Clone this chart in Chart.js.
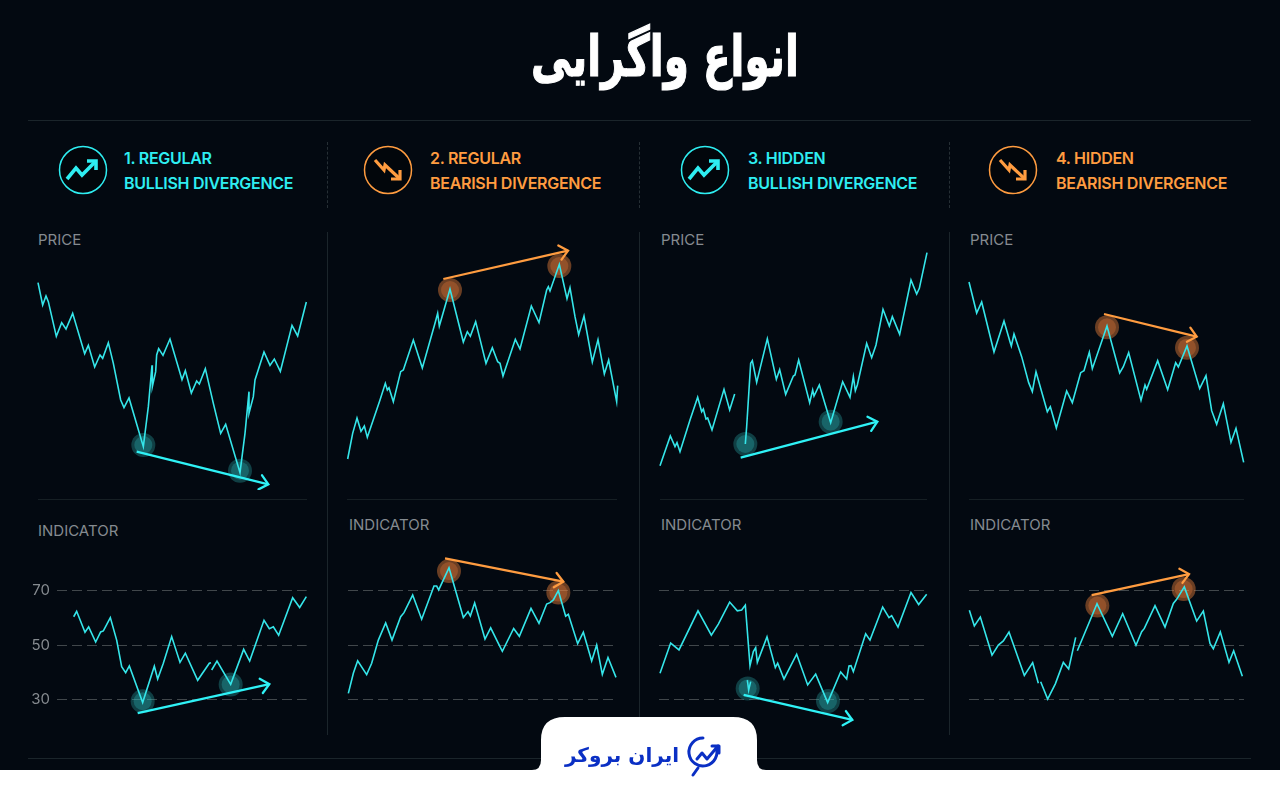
<!DOCTYPE html>
<html lang="fa">
<head>
<meta charset="utf-8">
<title>انواع واگرایی</title>
<script src="https://cdn.jsdelivr.net/npm/chart.js@4"></script>
<style>
    html, body { margin: 0; padding: 0; background: #030911; }
    #page { position: relative; width: 1280px; height: 800px; overflow: hidden; background: #030911; font-family: Inter, sans-serif; }
    canvas { position: absolute; }
    .rule { position: absolute; background: #1b252b; }
    .title { position: absolute; left: 415px; width: 500px; top: 18px; text-align: center; color: #fff; font: bold 57px "DejaVu Sans", sans-serif; direction: rtl; line-height: 76px; transform: scaleX(0.71); -webkit-text-stroke: 1.2px #fff; }
    .head { position: absolute; font-weight: 600; font-size: 16px; letter-spacing: -0.28px; line-height: 25px; white-space: nowrap; top: 146px; }
    .bull { color: #2eeef2; }
    .bear { color: #ff9c40; }
    .tag { position: absolute; color: #858b90; font-size: 15px; font-weight: 400; }
    .icon { position: absolute; top: 145px; }
    .logo { position: absolute; left: 562px; top: 743px; width: 120px; text-align: center; color: #0a2fc4; font: bold 20px "DejaVu Sans", sans-serif; direction: rtl; white-space: nowrap; }
</style>
</head>
<body>
<div id="page"></div>
<script>
// readings are [time, value]; price has no scale in the picture so its units are arbitrary
const price1 = [[114,622],[128,555],[138,582],[145,565],[169,461],[185,502],[198,483],[218,530],[254,409],[265,434],[284,369],[300,405],[308,395],[325,442],[340,380],[362,270],[372,247],[387,276],[430,130],[445,250],[456,374],[457,310],[467,355],[470,405],[476,424],[489,404],[510,453],[546,331],[556,358],[574,291],[590,327],[598,318],[616,364],[640,260],[662,170],[677,197],[720,52],[735,170],[747,295],[747,230],[760,280],[765,330],[792,414],[810,374],[823,393],[841,356],[876,494],[893,462],[919,564]];
const price2 = [[53,93],[68,170],[81,216],[93,176],[103,192],[112,158],[150,270],[166,320],[172,300],[177,307],[190,265],[212,355],[220,360],[250,450],[277,366],[298,440],[315,500],[323,530],[328,492],[360,603],[400,444],[412,475],[421,461],[437,505],[468,380],[487,427],[503,385],[510,380],[519,342],[556,452],[570,423],[604,552],[627,502],[650,600],[655,610],[660,597],[688,677],[711,574],[720,607],[735,520],[746,466],[762,522],[787,384],[804,451],[823,348],[836,390],[860,265],[863,313]];
const price3 = [[60,73],[91,162],[105,130],[111,142],[120,115],[150,210],[173,278],[185,235],[190,243],[198,213],[203,216],[216,180],[252,302],[269,240],[284,288],[300,null],[316,138],[320,190],[332,380],[337,388],[350,323],[382,454],[409,332],[419,361],[437,287],[460,342],[465,345],[476,390],[509,262],[518,300],[522,282],[538,315],[572,202],[608,325],[630,278],[640,340],[646,298],[652,315],[680,440],[695,397],[708,435],[729,542],[748,492],[757,520],[779,467],[813,630],[830,588],[838,605],[861,712]];
const price4 = [[57,624],[80,531],[95,564],[132,414],[162,507],[180,445],[184,432],[192,468],[215,400],[236,322],[247,295],[258,355],[292,235],[301,250],[319,186],[350,297],[367,262],[392,352],[402,358],[418,413],[427,364],[471,492],[509,351],[520,370],[536,412],[573,269],[585,315],[590,302],[623,388],[653,301],[677,382],[685,369],[711,432],[749,304],[768,343],[785,238],[800,197],[820,259],[843,143],[858,185],[881,83]];

const indicator1 = [[221,60.4],[230,62.4],[255,54.7],[266,56.7],[287,51.1],[302,54.8],[310,55.2],[331,60.1],[350,51.8],[365,42],[377,39.8],[388,42.3],[428,28.8],[463,42.2],[473,37.5],[490,43.3],[515,53.1],[540,43.6],[556,47],[593,37],[628,43.3],[633,43.5],[634,null],[635,40.8],[651,44.1],[692,35.5],[731,48.4],[749,44.1],[792,59.1],[808,56],[820,56.7],[836,53.6],[878,67.4],[899,63.8],[919,67.8]];
const indicator2 = [[55,32.2],[70,39.6],[83,44.2],[110,39.1],[125,43.3],[145,51.8],[167,58.1],[186,51.8],[212,60.4],[222,61.9],[248,68.4],[275,59.5],[312,71.7],[320,71.7],[326,70.3],[357,78.4],[400,60.1],[414,62.3],[421,60.7],[434,65.5],[465,52.2],[482,56.3],[505,50.6],[517,47.7],[551,56.1],[568,53.2],[603,63.5],[627,58],[650,65.1],[660,65.6],[670,66.6],[685,70],[707,60.6],[715,61.3],[743,50.5],[760,54.7],[785,44.1],[800,50],[817,39.2],[834,45.4],[858,38.1]];
const indicator3 = [[60,39.6],[92,50.7],[117,48.2],[174,62.6],[214,53.6],[235,57.7],[269,65.8],[292,62.6],[305,62.9],[316,64.7],[330,42.4],[340,47.6],[347,49],[352,43.6],[381,53],[406,41.7],[413,43.3],[432,37.5],[470,46.6],[503,35.3],[527,39.3],[563,28.8],[602,40.1],[620,37.5],[627,42.3],[633,42.4],[640,40.2],[677,54.1],[690,51.8],[728,64],[747,60.1],[755,60.8],[774,56.6],[813,69.3],[836,64.9],[860,68.7],[861,null],[322,37.1],[326,33.4],[332,36.5]];
const indicator4 = [[58,62.8],[73,57],[91,60.3],[126,46.3],[145,50],[160,51.5],[177,54.8],[223,38.8],[248,43.5],[265,35.9],[270,null],[272,36.5],[293,30.1],[316,35.7],[340,43.6],[356,41.2],[377,52.8],[380,null],[382,47.9],[441,65.2],[487,53.2],[518,61.5],[558,49.9],[575,54.9],[583,56.1],[615,64.5],[645,56.6],[670,65.3],[680,66.8],[703,71.4],[740,58.8],[760,62.5],[780,50.6],[790,48.6],[811,54.8],[837,43.6],[851,47.9],[877,38.5]];

// pivots the divergence is read from
const pivotsPrice1 = [[430,135],[720,58]];
const pivotsIndicator1 = [[428,29.3],[692,35.5]];
const pivotsPrice2 = [[360,600],[688,672]];
const pivotsIndicator2 = [[357,77.2],[685,69.3]];
const pivotsPrice3 = [[316,138],[572,205]];
const pivotsIndicator3 = [[323,34],[564,29.4]];
const pivotsPrice4 = [[471,488],[711,427]];
const pivotsIndicator4 = [[442,64.5],[701,70.6]];

// divergence lines, start and end
const arrowPrice1 = [[410,115],[805,17]];
const arrowIndicator1 = [[413,24.9],[808,35.6]];
const arrowPrice2 = [[340,633],[714,718]];
const arrowIndicator2 = [[345,81.9],[700,73.3]];
const arrowPrice3 = [[302,97],[712,205]];
const arrowIndicator3 = [[311,31.6],[637,22.4]];
const arrowPrice4 = [[462,528],[740,460]];
const arrowIndicator4 = [[425,68.4],[717,76.1]];

const levelTicks = [30, 50, 70];
const panelTitles = ["1. REGULAR", "2. REGULAR", "3. HIDDEN", "4. HIDDEN"];
const panelSubtitles = ["BULLISH DIVERGENCE", "BEARISH DIVERGENCE", "BULLISH DIVERGENCE", "BEARISH DIVERGENCE"];

const CYAN = "#35e6ea";
const COLORS = {
    bull: { arrow: "#2ff2f6", inner: "rgba(45,190,190,0.30)", outer: "rgba(45,190,190,0.30)" },
    bear: { arrow: "#ff9c40", inner: "rgba(240,130,60,0.30)", outer: "rgba(240,130,60,0.44)" }
};

const page = document.getElementById("page");
const toPoints = (rows) => rows.map(r => ({ x: r[0], y: r[1] }));

function addDiv(className, css, text) {
    const el = document.createElement("div");
    el.className = className;
    el.style.cssText = css;
    if (text) el.textContent = text;
    page.appendChild(el);
    return el;
}

// arrow head at the end of the divergence line
const arrowHeads = {
    id: "arrowHeads",
    afterDatasetsDraw(chart) {
        const ctx = chart.ctx;
        chart.data.datasets.forEach((ds, i) => {
            if (!ds.isArrow) return;
            const pts = chart.getDatasetMeta(i).data;
            const a = pts[0], b = pts[1];
            const ang = Math.atan2(b.y - a.y, b.x - a.x);
            ctx.save();
            ctx.strokeStyle = ds.borderColor;
            ctx.lineWidth = ds.borderWidth;
            ctx.lineCap = "round";
            ctx.beginPath();
            ctx.moveTo(b.x - 11 * Math.cos(ang - 0.72), b.y - 11 * Math.sin(ang - 0.72));
            ctx.lineTo(b.x, b.y);
            ctx.lineTo(b.x - 11 * Math.cos(ang + 0.72), b.y - 11 * Math.sin(ang + 0.72));
            ctx.stroke();
            ctx.restore();
        });
    }
};

function makeDatasets(line, pivots, arrow, scheme) {
    const c = COLORS[scheme];
    return [
        { data: toPoints(arrow), isArrow: true, showLine: true, borderColor: c.arrow, borderWidth: 2.3, pointRadius: 0, clip: false },
        { data: toPoints(line), showLine: true, borderColor: CYAN, borderWidth: 1.6, pointRadius: 0, clip: false },
        { data: toPoints(pivots), showLine: false, pointRadius: 9, pointBorderWidth: 0, pointBackgroundColor: c.inner, clip: false },
        { data: toPoints(pivots), showLine: false, pointRadius: 12, pointBorderWidth: 0, pointBackgroundColor: c.outer, clip: false }
    ];
}

function addCanvas(left, top, w, h) {
    const canvas = document.createElement("canvas");
    canvas.width = w;
    canvas.height = h;
    canvas.style.cssText = "left:" + left + "px;top:" + top + "px;width:" + w + "px;height:" + h + "px";
    page.appendChild(canvas);
    return canvas;
}

const baseOptions = {
    responsive: false,
    animation: false,
    events: [],
    plugins: { legend: { display: false }, tooltip: { enabled: false } }
};

function priceChart(left, w, line, pivots, arrow, scheme) {
    new Chart(addCanvas(left, 220, w, 270), {
        type: "scatter",
        data: { datasets: makeDatasets(line, pivots, arrow, scheme) },
        plugins: [arrowHeads],
        options: {
            ...baseOptions,
            layout: { autoPadding: false, padding: 0 },
            scales: {
                x: { type: "linear", display: false, min: 0, max: w * 3 },
                y: { type: "linear", display: false, min: 0, max: 810 }
            }
        }
    });
}

function indicatorChart(left, w, gridFrom, gridTo, showLabels, line, pivots, arrow, scheme) {
    new Chart(addCanvas(left, 500, w, 250), {
        type: "scatter",
        data: { datasets: makeDatasets(line, pivots, arrow, scheme) },
        plugins: [arrowHeads],
        options: {
            ...baseOptions,
            layout: { autoPadding: false, padding: { left: 0, right: w - gridTo / 3, top: 0, bottom: 0 } },
            scales: {
                x: { type: "linear", display: false, min: gridFrom, max: gridTo },
                y: {
                    type: "linear",
                    min: 11.35,
                    max: 103.38,
                    afterBuildTicks: (axis) => { axis.ticks = levelTicks.map(v => ({ value: v })); },
                    afterFit: (axis) => {
                        // labels must not pull the plot in, the levels have to line up across panels
                        axis.width = gridFrom / 3;
                        axis.paddingTop = 0;
                        axis.paddingBottom = 0;
                    },
                    border: { display: false, dash: [10, 5] },
                    grid: { color: "#41474b", lineWidth: 1, drawTicks: false },
                    ticks: { display: showLabels, padding: 7, color: "#868b90", font: { family: "Inter", size: 15 } }
                }
            }
        }
    });
}

// title and rules
addDiv("title", "", "انواع واگرایی");
addDiv("rule", "left:28px;top:120px;width:1223px;height:1px");
addDiv("rule", "left:28px;top:758px;width:1223px;height:1px");
[327, 639, 949].forEach(x => {
    addDiv("rule", "left:" + x + "px;top:232px;width:1px;height:503px");
    addDiv("", "position:absolute;left:" + x + "px;top:142px;height:66px;width:0;border-left:1px dashed #262f35");
});
[[38, 269], [347, 270], [660, 267], [969, 275]].forEach(s => {
    addDiv("rule", "left:" + s[0] + "px;top:499px;width:" + s[1] + "px;height:1px;background:#161f24");
});

// column headers
const UP_ICON = '<polyline points="-16,9 -7,-2 -1,5 12,-8" fill="none" stroke-width="3.6"/><polyline points="4,-9 13,-9 13,0" fill="none" stroke-width="3.6"/>';
const DOWN_ICON = '<polyline points="-13,-10 -4,0 -3,-5 12,9" fill="none" stroke-width="3.2"/><polyline points="12,0 12,9 3,9" fill="none" stroke-width="3.2"/>';
[[83, 124, "bull"], [388, 430, "bear"], [705, 748, "bull"], [1013, 1056, "bear"]].forEach((h, i) => {
    const color = h[2] === "bull" ? "#2eeef2" : "#ff9c40";
    const icon = addDiv("icon", "left:" + (h[0] - 25) + "px");
    icon.innerHTML = '<svg width="50" height="50" viewBox="-25 -25 50 50"><circle r="23.5" fill="#02060b" stroke="' + color + '" stroke-width="1.5"/><g stroke="' + color + '">' + (h[2] === "bull" ? UP_ICON : DOWN_ICON) + '</g></svg>';
    const head = addDiv("head " + h[2], "left:" + h[1] + "px");
    head.innerHTML = panelTitles[i] + "<br>" + panelSubtitles[i];
});

// panel labels
addDiv("tag", "left:38px;top:230px", "PRICE");
addDiv("tag", "left:661px;top:230px", "PRICE");
addDiv("tag", "left:970px;top:230px", "PRICE");
addDiv("tag", "left:38px;top:521px", "INDICATOR");
addDiv("tag", "left:349px;top:515px", "INDICATOR");
addDiv("tag", "left:661px;top:515px", "INDICATOR");
addDiv("tag", "left:970px;top:515px", "INDICATOR");

priceChart(0, 330, price1, pivotsPrice1, arrowPrice1, "bull");
priceChart(330, 310, price2, pivotsPrice2, arrowPrice2, "bear");
priceChart(640, 310, price3, pivotsPrice3, arrowPrice3, "bull");
priceChart(950, 310, price4, pivotsPrice4, arrowPrice4, "bear");

indicatorChart(0, 330, 171, 920, true, indicator1, pivotsIndicator1, arrowIndicator1, "bull");
indicatorChart(330, 310, 53, 862, false, indicator2, pivotsIndicator2, arrowIndicator2, "bear");
indicatorChart(640, 310, 58, 862, false, indicator3, pivotsIndicator3, arrowIndicator3, "bull");
indicatorChart(950, 310, 58, 882, false, indicator4, pivotsIndicator4, arrowIndicator4, "bear");

// white footer with the logo tab
const footer = addDiv("", "left:0;top:710px;position:absolute;width:1280px;height:90px");
footer.innerHTML = '<svg width="1280" height="90" viewBox="0 710 1280 90"><path fill="#fff" d="M0 770 H532 Q541 770 541 760 V740 Q541 717 565 717 H733 Q757 717 757 740 V760 Q757 770 766 770 H1280 V800 H0 Z"/>' +
    '<g fill="none" stroke="#0a2fc4" stroke-width="3" stroke-linecap="round" stroke-linejoin="round"><path d="M716 747 A14 14 0 1 1 703 738"/><path d="M693 775 L698 768"/><path d="M697 759 L702 753 L707 759 L718 746"/><path d="M712 746 H719 V753"/></g></svg>';
addDiv("logo", "", "ایران بروکر");
</script>
</body>
</html>
